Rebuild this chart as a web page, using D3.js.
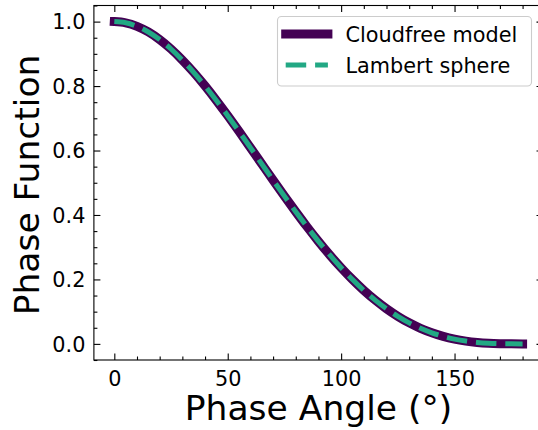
<!DOCTYPE html>
<html>
<head>
<meta charset="utf-8">
<script src="https://cdn.jsdelivr.net/npm/d3@7"></script>
<style>
  html, body { margin: 0; padding: 0; background: #fff; }
  svg { display: block; font-family: "DejaVu Sans", sans-serif; }
</style>
</head>
<body>
<svg id="chart" width="538" height="430"></svg>
<script>
// Phase angle samples (degrees)
const phaseAngles = [0, 5, 10, 15, 20, 25, 30, 35, 40, 45, 50, 55, 60, 65, 70, 75, 80, 85, 90,
  95, 100, 105, 110, 115, 120, 125, 130, 135, 140, 145, 150, 155, 160, 165, 170, 175, 180];

// Cloud-free model phase function
const cloudfreeValues = [1.0, 0.9963, 0.9854, 0.9678, 0.9442, 0.9150, 0.8808, 0.8425, 0.8004, 0.7554,
  0.7081, 0.6591, 0.6090, 0.5585, 0.5081, 0.4584, 0.4100, 0.3631, 0.3183,
  0.2759, 0.2363, 0.1996, 0.1661, 0.1359, 0.1090, 0.0855, 0.0653, 0.0483, 0.0344, 0.0233,
  0.0148, 0.0087, 0.0045, 0.0019, 0.0006, 0.0001, 0.0];

// Lambert sphere phase function
const lambertValues = [1.0, 0.9963, 0.9854, 0.9678, 0.9442, 0.9150, 0.8808, 0.8425, 0.8004, 0.7554,
  0.7081, 0.6591, 0.6090, 0.5585, 0.5081, 0.4584, 0.4100, 0.3631, 0.3183,
  0.2759, 0.2363, 0.1996, 0.1661, 0.1359, 0.1090, 0.0855, 0.0653, 0.0483, 0.0344, 0.0233,
  0.0148, 0.0087, 0.0045, 0.0019, 0.0006, 0.0001, 0.0];

const xTicks = [0, 50, 100, 150];
const xMinorTicks = [10, 20, 30, 40, 60, 70, 80, 90, 110, 120, 130, 140, 160, 170, 180];
const yTicks = [0.0, 0.2, 0.4, 0.6, 0.8, 1.0];
const yMinorTicks = [-0.05, 0.05, 0.1, 0.15, 0.25, 0.3, 0.35, 0.45, 0.5, 0.55, 0.65, 0.7, 0.75, 0.85, 0.9, 0.95, 1.05];

const seriesNames = ["Cloudfree model", "Lambert sphere"];
const purple = "#440154";
const green = "#22a884";

const svg = d3.select("#chart");

const plotLeft = 93.9, plotRight = 543, plotTop = 5.5, plotBottom = 360;

const x = d3.scaleLinear().domain([-9, 189]).range([plotLeft, plotRight]);
const y = d3.scaleLinear().domain([-0.05, 1.05]).range([plotBottom, plotTop]);

const majorLen = 6.5, minorLen = 3.5;
const tickFont = 20.8;

// Frame
svg.append("rect")
  .attr("x", plotLeft).attr("y", plotTop)
  .attr("width", plotRight - plotLeft).attr("height", plotBottom - plotTop)
  .attr("fill", "none").attr("stroke", "#000").attr("stroke-width", 1.1);

// Inward ticks on all four sides
function axisTicks(axisGen, transform, values, len, labels) {
  const g = svg.append("g").attr("transform", transform)
    .call(axisGen.tickValues(values).tickSize(len).tickSizeOuter(0).tickPadding(6));
  g.select(".domain").remove();
  g.selectAll(".tick line").attr("stroke", "#000").attr("stroke-width", 1.1);
  if (!labels) g.selectAll(".tick text").remove();
  else g.selectAll(".tick text")
    .attr("font-size", tickFont).attr("font-family", "DejaVu Sans").attr("fill", "#000");
  return g;
}

// bottom
const xb = axisTicks(d3.axisTop(x).tickFormat(d3.format("d")), `translate(0,${plotBottom})`, xTicks, majorLen, true);
xb.selectAll(".tick text").attr("y", 26).attr("dy", 0).attr("text-anchor", "middle");
axisTicks(d3.axisTop(x), `translate(0,${plotBottom})`, xMinorTicks, minorLen, false);
// top
axisTicks(d3.axisBottom(x), `translate(0,${plotTop})`, xTicks, majorLen, false);
axisTicks(d3.axisBottom(x), `translate(0,${plotTop})`, xMinorTicks, minorLen, false);
// left
const yl = axisTicks(d3.axisRight(y).tickFormat(d3.format(".1f")), `translate(${plotLeft},0)`, yTicks, majorLen, true);
yl.selectAll(".tick text").attr("x", -8.5).attr("dy", "0.35em").attr("text-anchor", "end");
axisTicks(d3.axisRight(y), `translate(${plotLeft},0)`, yMinorTicks, minorLen, false);
// right
axisTicks(d3.axisLeft(y), `translate(${plotRight},0)`, yTicks, majorLen, false);
axisTicks(d3.axisLeft(y), `translate(${plotRight},0)`, yMinorTicks, minorLen, false);

// Curves
const line = d3.line()
  .x((d, i) => x(phaseAngles[i]))
  .y(d => y(d))
  .curve(d3.curveMonotoneX);

svg.append("path")
  .attr("d", line(cloudfreeValues))
  .attr("fill", "none").attr("stroke", purple)
  .attr("stroke-width", 9).attr("stroke-linecap", "square").attr("stroke-linejoin", "round");

svg.append("path")
  .attr("d", line(lambertValues))
  .attr("fill", "none").attr("stroke", green)
  .attr("stroke-width", 5).attr("stroke-dasharray", "20.5 8.9").attr("stroke-linecap", "butt");

// Axis labels
svg.append("text")
  .attr("x", (plotLeft + plotRight) / 2).attr("y", 420)
  .attr("text-anchor", "middle").attr("font-size", 34.5).attr("fill", "#000")
  .text("Phase Angle (°)");

svg.append("text")
  .attr("transform", "translate(38.5,185) rotate(-90)")
  .attr("text-anchor", "middle").attr("font-size", 34.5).attr("fill", "#000")
  .text("Phase Function");

// Legend
const legend = svg.append("g");
legend.append("rect")
  .attr("x", 277.5).attr("y", 16.5).attr("width", 254).attr("height", 69.5)
  .attr("rx", 4).attr("ry", 4)
  .attr("fill", "#fff").attr("fill-opacity", 0.8)
  .attr("stroke", "#cccccc").attr("stroke-width", 1.1);

const rowY = [34, 65];
const styles = [
  { color: purple, width: 9, dash: null, cap: "square" },
  { color: green, width: 5, dash: "20.5 8.9", cap: "butt" }
];
seriesNames.forEach((name, i) => {
  const s = styles[i];
  const l = legend.append("line")
    .attr("x1", 285.7).attr("x2", 327.9)
    .attr("y1", rowY[i]).attr("y2", rowY[i])
    .attr("stroke", s.color).attr("stroke-width", s.width).attr("stroke-linecap", s.cap);
  if (s.dash) l.attr("stroke-dasharray", s.dash);
  legend.append("text")
    .attr("x", 345.5).attr("y", rowY[i] + 7.6)
    .attr("font-size", tickFont).attr("fill", "#000")
    .text(name);
});
</script>
</body>
</html>
